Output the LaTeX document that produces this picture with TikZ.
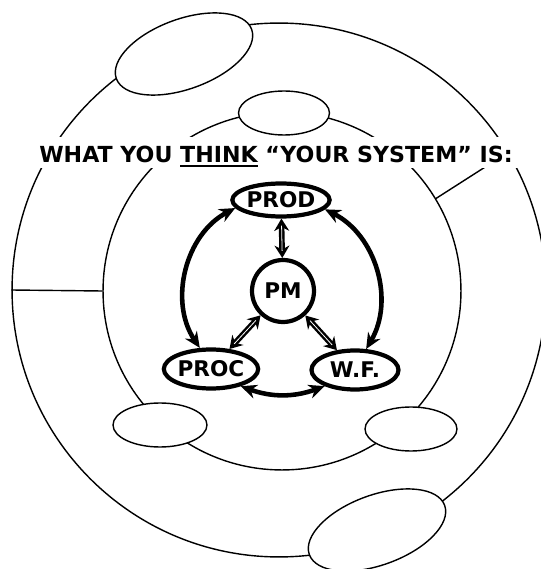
\documentclass[tikz,border=0pt]{standalone}
\usepackage{fontspec}
\setmainfont{DejaVu Sans}
\usetikzlibrary{arrows.meta,shapes.geometric}
\newcommand\ulword[1]{\setbox0=\hbox{#1}\rlap{\rule[-2.4pt]{\wd0}{1.1pt}}\box0\relax}
\tikzset{
  >={Stealth[length=9pt,width=8pt]},
  ring/.style={circle,draw,line width=0.8pt,inner sep=0pt},
  pod/.style={ellipse,draw,fill=white,line width=0.8pt,inner sep=0pt},
  unit/.style={ellipse,draw,line width=2.4pt,inner sep=0pt,font=\bfseries\fontsize{12.3}{14}\selectfont},
  head/.style={fill=white,inner xsep=3pt,inner ysep=0pt,text height=14.7pt,text depth=2.8pt,
    font=\bfseries\fontsize{12.6}{15}\selectfont},
  flow/.style={<->,line width=2.6pt},
  tie/.style={<->,>={Stealth[length=7pt,width=8.5pt]},line width=3.2pt,
    postaction={draw=white,-,line width=0.45pt,shorten <=4pt,shorten >=4pt}},
}

\begin{document}
\begin{tikzpicture}[x=0.02cm,y=0.02cm]
\useasboundingbox (0,0) rectangle (541,569); \clip (0,0) rectangle (541,569);
% rings and spokes
\node[ring,minimum size=10.68cm] (outer) at (279,279){};
\node[ring,minimum size=7.16cm] (inner) at (282,278){};
\draw[line width=0.8pt] (outer.180) -- (inner.180); \draw[line width=0.8pt] (inner.31) -- (outer.31);
% empty blobs
\node[pod,minimum width=2.88cm,minimum height=1.4cm,rotate=20] (o1) at (184,515){};
\node[pod,minimum width=2.88cm,minimum height=1.4cm,rotate=20] (o2) at (377,39){};
\node[pod,minimum width=1.82cm,minimum height=0.88cm] (i1) at (284,456){};
\node[pod,minimum width=1.88cm,minimum height=0.88cm] (i2) at (160,144){};
\node[pod,minimum width=1.84cm,minimum height=0.88cm] (i3) at (411,140){};
\node[head,anchor=base] (title) at (276,406) {WHAT YOU \ulword{THINK} “YOUR SYSTEM” IS:};
% the system
\node[unit,minimum width=1.7cm,minimum height=0.66cm] (prod) at (281,369) {PROD};
\node[unit,circle,minimum size=1.24cm] (pm) at (283,278) {PM};
\node[unit,minimum width=1.76cm,minimum height=0.78cm] (proc) at (211,200) {PROC};
\node[unit,minimum width=1.74cm,minimum height=0.78cm] (wf) at (355,199) {W.F.};
\draw[tie] (prod) -- (pm); \draw[tie] (pm) -- (proc); \draw[tie] (pm) -- (wf);
\draw[flow] (prod.190) to[bend right=48] (proc.118);
\draw[flow] (prod.-12) to[bend left=47] (wf.62);
\draw[flow] (proc.-30) to[bend right=20] (wf.208);
\end{tikzpicture}
\end{document}
